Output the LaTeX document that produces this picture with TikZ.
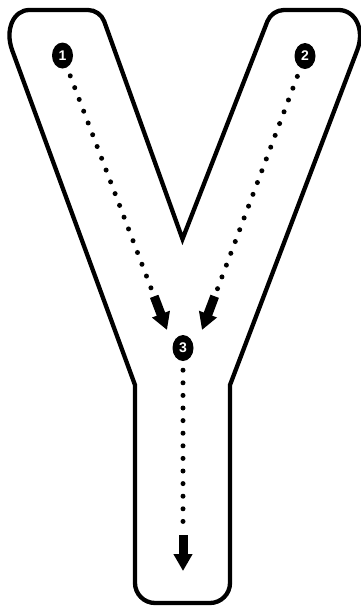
\documentclass[tikz,border=0pt]{standalone}
\usepackage{fontspec}
\newfontfamily\digitfont{Liberation Sans}
\usetikzlibrary{calc,arrows.meta,shapes.geometric}
\begin{document}
\begin{tikzpicture}[x=1pt,y=-1pt,
  outline/.style={line width=4.3pt, line join=miter},
  numdot/.style={ellipse, fill=black, minimum width=21pt, minimum height=26pt, inner sep=0pt, text=white, font=\digitfont\bfseries\fontsize{14}{14}\selectfont},
  dotline/.style={line width=5pt, line cap=round, dash pattern=on 0pt off 12.6pt, shorten <=9pt, shorten >=5pt},
  blockarrow/.style={line width=9pt, -{Triangle[width=18pt,length=17pt]}}
]
\fill[white] (0,0) rectangle (360,611);
\useasboundingbox (0,0) rectangle (360,611);
\coordinate (A1) at (-2.6,10);
\coordinate (A2) at (100.1,10);
\coordinate (V) at (182.5,239);
\coordinate (A3) at (271.8,10);
\coordinate (A4) at (372.5,10);
\coordinate (J2) at (230,385);
\coordinate (B2) at (230,603);
\coordinate (B1) at (135,603);
\coordinate (J1) at (135,385);
\draw[outline] ($(A1)!43pt!(J1)$)
 .. controls ($(A1)!21pt!(J1)$) and ($(A1)!16pt!(A2)$) .. ($(A1)!32pt!(A2)$)
 -- ($(A2)!12pt!(A1)$)
 .. controls ($(A2)!5pt!(A1)$) and ($(A2)!5pt!(V)$) .. ($(A2)!12pt!(V)$)
 -- (V)
 -- ($(A3)!12pt!(V)$)
 .. controls ($(A3)!5pt!(V)$) and ($(A3)!5pt!(A4)$) .. ($(A3)!12pt!(A4)$)
 -- ($(A4)!34pt!(A3)$)
 .. controls ($(A4)!17pt!(A3)$) and ($(A4)!21pt!(J2)$) .. ($(A4)!43pt!(J2)$)
 -- (J2)
 -- ($(B2)!20pt!(J2)$)
 .. controls ($(B2)!9pt!(J2)$) and ($(B2)!9pt!(B1)$) .. ($(B2)!20pt!(B1)$)
 -- ($(B1)!20pt!(B2)$)
 .. controls ($(B1)!9pt!(B2)$) and ($(B1)!9pt!(J1)$) .. ($(B1)!20pt!(J1)$)
 -- (J1) -- cycle;
\node[numdot] (n1) at (62.5,55.5) {1};
\node[numdot] (n2) at (305,56) {2};
\node[numdot] (n3) at (183,348) {3};
\coordinate (t1) at (167,330);
\coordinate (t2) at (202,330);
\coordinate (t3) at (183,571);
\coordinate (s1) at ($(t1)!36pt!(n1)$);
\coordinate (s2) at ($(t2)!36pt!(n2)$);
\coordinate (s3) at ($(t3)!36pt!(n3)$);
\draw[dotline] (n1) -- (s1);
\draw[dotline] (n2) -- (s2);
\draw[dotline] (n3) -- (s3);
\draw[blockarrow] (s1) -- (t1);
\draw[blockarrow] (s2) -- (t2);
\draw[blockarrow] (s3) -- (t3);
\end{tikzpicture}
\end{document}
